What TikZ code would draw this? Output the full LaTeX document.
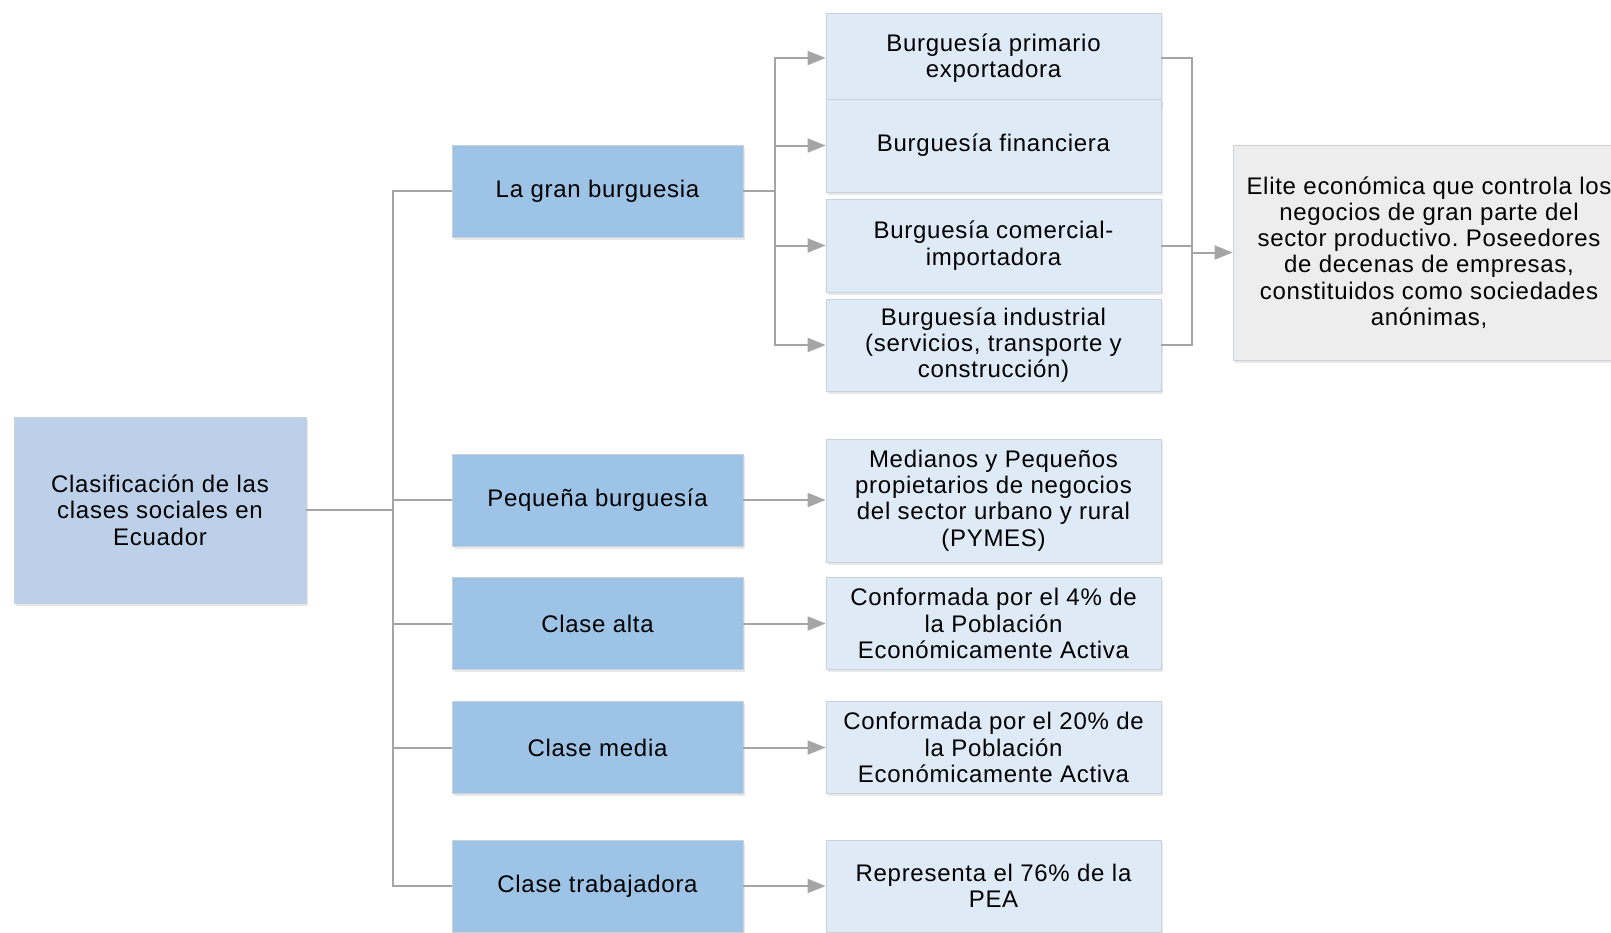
\documentclass[tikz,border=0pt]{standalone}
\usepackage{fontspec}
\setmainfont{Liberation Sans}[LetterSpace=3]
\usepackage{tikz}
\usetikzlibrary{arrows.meta, shadows}
\definecolor{rootblue}{HTML}{BDD0EA}
\definecolor{midblue}{HTML}{9DC3E6}
\definecolor{paleblue}{HTML}{DEEAF6}
\definecolor{elitegray}{HTML}{EDEDED}
\definecolor{edgegray}{HTML}{C9D1DB}
\definecolor{linkgray}{HTML}{A5A5A5}
\frenchspacing

\begin{document}
\begin{tikzpicture}[x=1pt, y=-1pt]
\tikzstyle{box} = [rectangle, draw=edgegray, line width=0.8pt, align=center, text centered, font=\fontsize{24}{26.3}\selectfont, drop shadow={shadow xshift=1.5pt, shadow yshift=-2.5pt, opacity=0.15, fill=black!60}]
\tikzstyle{rootbox} = [box, fill=rootblue, minimum width=292pt, minimum height=186pt]
\tikzstyle{classbox} = [box, fill=midblue, minimum width=291pt, minimum height=92pt]
\tikzstyle{detailbox} = [box, fill=paleblue, minimum width=335pt, minimum height=92pt]
\tikzstyle{elitebox} = [box, fill=elitegray, minimum width=392pt, minimum height=215pt]
\tikzstyle{link} = [draw=linkgray, line width=2pt]
\tikzstyle{arrowlink} = [link, -{Triangle[length=18pt, width=14pt]}]

\useasboundingbox (0,0) rectangle (1611,932);

\node (root) [rootbox] at (160,510) {Clasificación de las\\clases sociales en\\Ecuador};

\node (gran)    [classbox] at (597.5,191)   {La gran burguesia};
\node (pequena) [classbox] at (597.5,500)   {Pequeña burguesía};
\node (alta)    [classbox] at (597.5,623.5) {Clase alta};
\node (media)   [classbox] at (597.5,747.5) {Clase media};
\node (trab)    [classbox] at (597.5,886)   {Clase trabajadora};

\node (primario)   [detailbox, minimum height=90pt] at (993.5,58)    {Burguesía primario\\exportadora};
\node (financiera) [detailbox, minimum height=93pt] at (993.5,145.5) {Burguesía financiera};
\node (comercial)  [detailbox, minimum height=93pt] at (993.5,245.5) {Burguesía comercial-\\importadora};
\node (industrial) [detailbox] at (993.5,345) {Burguesía industrial\\(servicios, transporte y\\construcción)};
\node (pymes)      [detailbox, minimum height=123pt] at (993.5,500.5) {Medianos y Pequeños\\propietarios de negocios\\del sector urbano y rural\\(PYMES)};
\node (altadesc)   [detailbox] at (993.5,623.5) {Conformada por el 4\% de\\la Población\\Económicamente Activa};
\node (mediadesc)  [detailbox] at (993.5,747.5) {Conformada por el 20\% de\\la Población\\Económicamente Activa};
\node (trabdesc)   [detailbox] at (993.5,886)   {Representa el 76\% de la\\PEA};

\node (elite) [elitebox] at (1429,252.5) {Elite económica que controla los\\negocios de gran parte del\\sector productivo. Poseedores\\de decenas de empresas,\\constituidos como sociedades\\anónimas,};

% tree from the root
\coordinate (trunk) at (393,510);
\draw [link] (root.east) -- (trunk);
\foreach \n in {gran, pequena, alta, media, trab}
  \draw [link] (trunk) |- (\n.west);

% branches of the gran burguesia
\coordinate (fork) at (775,191);
\draw [link] (gran.east) -- (fork);
\foreach \n in {primario, financiera, comercial, industrial}
  \draw [arrowlink] (fork) |- (\n.west);

\coordinate (merge) at (1192,252.5);
\foreach \n in {primario, comercial, industrial}
  \draw [link] (\n.east) -| (merge);
\draw [arrowlink] (merge) -- (elite.west);

% one description per class
\draw [arrowlink] (pequena.east) -- (pequena.east -| pymes.west);
\draw [arrowlink] (alta.east) -- (alta.east -| altadesc.west);
\draw [arrowlink] (media.east) -- (media.east -| mediadesc.west);
\draw [arrowlink] (trab.east) -- (trab.east -| trabdesc.west);

\end{tikzpicture}
\end{document}
